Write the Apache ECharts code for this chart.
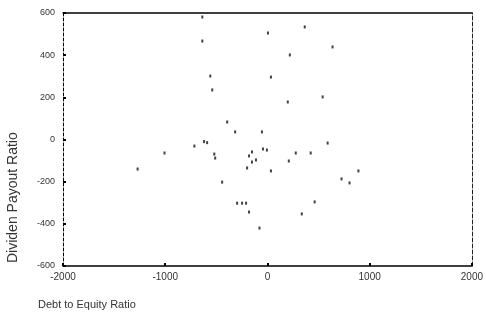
<!DOCTYPE html>
<html>
<head>
<meta charset="utf-8">
<script src="https://cdn.jsdelivr.net/npm/echarts@6/dist/echarts.min.js"></script>
<style>html,body{margin:0;padding:0;background:#fff}#c{width:486px;height:327px}</style>
</head>
<body>
<div id="c"></div>
<script>
var debtToEquity = [-637,-637,-559,-540,5,365,637,219,34,540,199,-394,-316,-54,-620,-590,-715,-1007,-1270,-520,-511,-443,-297,589,-44,-5,-151,-180,-112,-151,-199,277,423,209,34,890,725,803,-248,-209,-180,462,336,-78];
var payoutRatio = [581,467,301,235,505,534,439,401,296,202,178,83,36,36,-10,-15,-31,-64,-140,-69,-88,-202,-302,-17,-45,-50,-59,-78,-97,-107,-135,-64,-64,-102,-149,-149,-187,-206,-302,-302,-344,-296,-353,-420];
var xTicks = [-2000,-1000,0,1000,2000];
var yTicks = [-600,-400,-200,0,200,400,600];
var xTitle = "Debt to Equity Ratio";
var yTitle = "Dividen Payout Ratio";

var points = debtToEquity.map(function(v,i){return [v,payoutRatio[i]];});
var font = "Liberation Sans";
var plain = function(v){return String(v);};
var chart = echarts.init(document.getElementById('c'));
chart.setOption({
  animation:false,
  backgroundColor:'#fff',
  grid:{left:63,right:12,top:13,bottom:61},
  xAxis:[{
    type:'value',min:xTicks[0],max:xTicks[xTicks.length-1],interval:1000,position:'bottom',
    axisLine:{onZero:false,lineStyle:{color:'#000',width:1.5}},
    axisTick:{inside:true,length:3,lineStyle:{color:'#000',width:2}},
    axisLabel:{color:'#333',fontFamily:font,fontSize:10,margin:6,formatter:plain},
    splitLine:{show:false}
  },{
    type:'value',min:xTicks[0],max:xTicks[xTicks.length-1],interval:1000,position:'top',
    axisLine:{onZero:false,lineStyle:{color:'#000',width:1.5}},
    axisTick:{show:false},axisLabel:{show:false},splitLine:{show:false}
  }],
  yAxis:[{
    type:'value',min:yTicks[0],max:yTicks[yTicks.length-1],interval:200,position:'left',
    axisLine:{onZero:false,lineStyle:{color:'#000',width:1,type:[3,2]}},
    axisTick:{inside:true,length:3,lineStyle:{color:'#000',width:2}},
    axisLabel:{color:'#333',fontFamily:font,fontSize:9,margin:8,formatter:plain},
    splitLine:{show:false}
  },{
    type:'value',min:yTicks[0],max:yTicks[yTicks.length-1],interval:200,position:'right',
    axisLine:{onZero:false,lineStyle:{color:'#222',width:1,type:[4,2]}},
    axisTick:{show:false},axisLabel:{show:false},splitLine:{show:false}
  }],
  graphic:[
    {type:'text',left:38,top:299,style:{text:xTitle,fill:'#333',font:'11px "Liberation Sans"'}},
    {type:'text',x:6,y:263,rotation:Math.PI/2,style:{text:yTitle,fill:'#333',font:'14px "Liberation Sans"'}}
  ],
  series:[{
    type:'scatter',data:points,symbol:'rect',symbolSize:[2,3],
    itemStyle:{color:'#111'}
  }]
});
</script>
</body>
</html>
